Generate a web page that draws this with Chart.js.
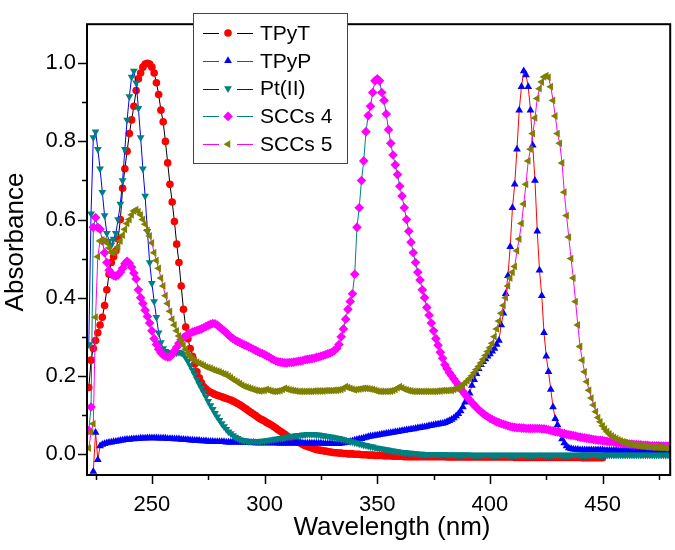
<!DOCTYPE html>
<html>
<head>
<meta charset="utf-8">
<script src="https://cdn.jsdelivr.net/npm/chart.js@4.4.1/dist/chart.umd.min.js"></script>
<style>
  html, body { margin: 0; padding: 0; background: #fff; }
  #wrap { width: 675px; height: 550px; }
</style>
</head>
<body>
<div id="wrap"><canvas id="myChart" width="675" height="550"></canvas></div>
<script>
// UV-Vis spectra, sampled every 1 nm from 221 nm to 480 nm (null = no data)
var wavelengthStart = 221;
var wavelengthEnd = 480;

var tpyt = [
  null, 0.17, 0.24, 0.27, 0.29, 0.31, 0.33, 0.35, 0.38, 0.42,
  0.46, 0.49, 0.505, 0.52, 0.55, 0.60, 0.68, 0.73, 0.775, 0.82,
  0.855, 0.89, 0.93, 0.96, 0.975, 0.99, 0.998, 1.0, 0.998, 0.99,
  0.975, 0.95, 0.92, 0.88, 0.85, 0.80, 0.745, 0.69, 0.645, 0.595,
  0.537, 0.49, 0.43, 0.37, 0.325, 0.295, 0.27, 0.25, 0.23, 0.21,
  0.195, 0.182, 0.172, 0.166, 0.161, 0.158, 0.155, 0.152, 0.15, 0.148,
  0.146, 0.144, 0.142, 0.14, 0.138, 0.135, 0.132, 0.129, 0.126, 0.122,
  0.118, 0.114, 0.11, 0.106, 0.102, 0.098, 0.094, 0.09, 0.087, 0.084,
  0.08, 0.077, 0.074, 0.07, 0.066, 0.062, 0.058, 0.054, 0.05, 0.046,
  0.042, 0.039, 0.036, 0.033, 0.03, 0.027, 0.024, 0.021, 0.019, 0.017,
  0.015, 0.013, 0.011, 0.01, 0.009, 0.008, 0.007, 0.006, 0.005, 0.004,
  0.003, 0.003, 0.002, 0.002, 0.001, 0.001, 0.0, 0.0, 0.0, -0.001,
  -0.001, -0.001, -0.002, -0.002, -0.002, -0.003, -0.003, -0.003, -0.004, -0.004,
  -0.004, -0.004, -0.005, -0.005, -0.005, -0.005, -0.006, -0.006, -0.006, -0.006,
  -0.006, -0.007, -0.007, -0.007, -0.007, -0.007, -0.007, -0.007, -0.007, -0.007,
  -0.007, -0.007, -0.007, -0.007, -0.007, -0.007, -0.007, -0.007, -0.007, -0.007,
  -0.008, -0.008, -0.008, -0.008, -0.008, -0.008, -0.008, -0.008, -0.008, -0.008,
  -0.008, -0.008, -0.008, -0.008, -0.008, -0.008, -0.008, -0.008, -0.008, -0.008,
  -0.008, -0.008, -0.008, -0.008, -0.008, -0.008, -0.008, -0.008, -0.008, -0.008,
  -0.009, -0.009, -0.009, -0.009, -0.009, -0.009, -0.009, -0.009, -0.009, -0.009,
  -0.009, -0.009, -0.009, -0.009, -0.009, -0.009, -0.009, -0.009, -0.009, -0.009,
  -0.009, -0.009, -0.009, -0.009, -0.009, -0.009, -0.009, -0.009, -0.009, -0.009,
  -0.01, -0.01, -0.01, -0.01, -0.01, -0.01, -0.01, -0.01, -0.01, -0.01,
  null, null, null, null, null, null, null, null, null, null,
  null, null, null, null, null, null, null, null, null, null,
  null, null, null, null, null, null, null, null, null, null
];

var tpyp = [
  null, null, null, -0.045, 0.055, -0.015, 0.02, 0.024, 0.026, 0.028,
  0.029, 0.03, 0.031, 0.032, 0.033, 0.034, 0.035, 0.036, 0.037, 0.037,
  0.038, 0.038, 0.039, 0.039, 0.04, 0.04, 0.04, 0.041, 0.041, 0.041,
  0.041, 0.041, 0.04, 0.04, 0.04, 0.04, 0.039, 0.039, 0.039, 0.038,
  0.038, 0.038, 0.037, 0.037, 0.036, 0.036, 0.035, 0.035, 0.034, 0.034,
  0.034, 0.033, 0.033, 0.033, 0.032, 0.032, 0.032, 0.031, 0.031, 0.031,
  0.031, 0.031, 0.03, 0.03, 0.03, 0.03, 0.03, 0.03, 0.03, 0.03,
  0.029, 0.029, 0.029, 0.029, 0.029, 0.028, 0.028, 0.028, 0.028, 0.028,
  0.028, 0.028, 0.028, 0.028, 0.028, 0.027, 0.027, 0.027, 0.027, 0.027,
  0.027, 0.027, 0.027, 0.027, 0.027, 0.027, 0.027, 0.027, 0.027, 0.027,
  0.027, 0.027, 0.027, 0.027, 0.027, 0.026, 0.026, 0.026, 0.026, 0.026,
  0.026, 0.026, 0.026, 0.027, 0.028, 0.029, 0.03, 0.032, 0.033, 0.035,
  0.036, 0.038, 0.039, 0.041, 0.042, 0.044, 0.045, 0.046, 0.047, 0.048,
  0.049, 0.05, 0.051, 0.052, 0.053, 0.054, 0.055, 0.056, 0.057, 0.058,
  0.059, 0.06, 0.061, 0.062, 0.063, 0.064, 0.065, 0.066, 0.067, 0.068,
  0.069, 0.07, 0.072, 0.073, 0.074, 0.075, 0.076, 0.077, 0.078, 0.08,
  0.082, 0.085, 0.088, 0.092, 0.097, 0.103, 0.11, 0.12, 0.132, 0.145,
  0.155, 0.175, 0.19, 0.205, 0.218, 0.228, 0.236, 0.243, 0.25, 0.256,
  0.263, 0.27, 0.28, 0.29, 0.33, 0.36, 0.41, 0.456, 0.53, 0.63,
  0.69, 0.78, 0.88, 0.94, 0.98, 0.97, 0.94, 0.88, 0.79, 0.70,
  0.57, 0.47, 0.405, 0.31, 0.25, 0.21, 0.165, 0.12, 0.09, 0.074,
  0.055, 0.038, 0.028, 0.02, 0.015, 0.013, 0.012, 0.011, 0.011, 0.01,
  0.01, 0.01, 0.01, 0.01, 0.01, 0.01, 0.01, 0.01, 0.01, 0.01,
  0.009, 0.009, 0.009, 0.009, 0.009, 0.009, 0.009, 0.009, 0.009, 0.009,
  0.009, 0.009, 0.009, 0.009, 0.009, 0.009, 0.009, 0.009, 0.009, 0.009,
  0.008, 0.008, 0.008, 0.008, 0.008, 0.008, 0.008, 0.008, 0.008, 0.008
];

var ptII = [
  null, 0.28, 0.615, 0.81, 0.825, 0.78, 0.73, 0.67, 0.61, 0.565,
  0.545, 0.535, 0.55, 0.565, 0.60, 0.64, 0.70, 0.78, 0.855, 0.915,
  0.965, 0.98, 0.95, 0.885, 0.81, 0.73, 0.66, 0.57, 0.49, 0.437,
  0.39, 0.35, 0.31, 0.285, 0.27, 0.263, 0.26, 0.258, 0.258, 0.258,
  0.259, 0.26, 0.259, 0.255, 0.247, 0.237, 0.226, 0.215, 0.203, 0.191,
  0.179, 0.168, 0.157, 0.146, 0.135, 0.124, 0.114, 0.104, 0.095, 0.086,
  0.078, 0.07, 0.063, 0.057, 0.052, 0.047, 0.043, 0.04, 0.037, 0.035,
  0.034, 0.033, 0.032, 0.032, 0.032, 0.032, 0.032, 0.032, 0.033, 0.033,
  0.034, 0.035, 0.036, 0.037, 0.038, 0.039, 0.04, 0.041, 0.042, 0.043,
  0.044, 0.045, 0.046, 0.047, 0.048, 0.048, 0.049, 0.049, 0.05, 0.05,
  0.05, 0.05, 0.049, 0.049, 0.048, 0.047, 0.046, 0.045, 0.044, 0.043,
  0.042, 0.041, 0.04, 0.038, 0.037, 0.035, 0.034, 0.032, 0.031, 0.029,
  0.028, 0.026, 0.025, 0.023, 0.022, 0.02, 0.019, 0.018, 0.016, 0.015,
  0.014, 0.013, 0.012, 0.011, 0.01, 0.009, 0.008, 0.007, 0.006, 0.005,
  0.004, 0.004, 0.003, 0.002, 0.002, 0.001, 0.001, 0.0, 0.0, 0.0,
  -0.001, -0.001, -0.001, -0.001, -0.001, -0.001, -0.001, -0.001, -0.001, -0.001,
  -0.002, -0.002, -0.002, -0.002, -0.002, -0.002, -0.002, -0.002, -0.002, -0.002,
  -0.003, -0.003, -0.003, -0.003, -0.003, -0.003, -0.003, -0.003, -0.003, -0.003,
  -0.003, -0.003, -0.003, -0.003, -0.003, -0.003, -0.003, -0.003, -0.003, -0.003,
  -0.003, -0.003, -0.003, -0.003, -0.003, -0.003, -0.003, -0.003, -0.003, -0.003,
  -0.003, -0.003, -0.003, -0.003, -0.003, -0.003, -0.003, -0.003, -0.003, -0.003,
  -0.003, -0.003, -0.003, -0.003, -0.003, -0.003, -0.003, -0.003, -0.003, -0.003,
  -0.003, -0.003, -0.003, -0.003, -0.003, -0.003, -0.003, -0.003, -0.003, -0.003,
  -0.003, -0.003, -0.003, -0.003, -0.003, -0.003, -0.003, -0.003, -0.003, -0.003,
  -0.003, -0.003, -0.003, -0.003, -0.003, -0.003, -0.003, -0.003, -0.003, -0.003,
  -0.003, -0.003, -0.003, -0.003, -0.003, -0.003, -0.003, -0.003, -0.003, -0.003
];

var sccs4 = [
  null, 0.06, 0.12, 0.58, 0.605, 0.58, 0.575, 0.545, 0.515, 0.49,
  0.47, 0.46, 0.457, 0.455, 0.458, 0.465, 0.475, 0.487, 0.493, 0.488,
  0.478, 0.463, 0.448, 0.42, 0.40, 0.385, 0.368, 0.352, 0.335, 0.315,
  0.295, 0.28, 0.268, 0.259, 0.253, 0.25, 0.248, 0.249, 0.255, 0.264,
  0.273, 0.283, 0.292, 0.298, 0.302, 0.306, 0.309, 0.312, 0.314, 0.316,
  0.318, 0.32, 0.323, 0.326, 0.329, 0.332, 0.334, 0.333, 0.33, 0.325,
  0.32, 0.315, 0.31, 0.304, 0.299, 0.295, 0.291, 0.288, 0.285, 0.282,
  0.279, 0.277, 0.274, 0.271, 0.268, 0.265, 0.262, 0.259, 0.257, 0.254,
  0.251, 0.248, 0.244, 0.241, 0.238, 0.236, 0.235, 0.234, 0.233, 0.233,
  0.234, 0.234, 0.235, 0.236, 0.237, 0.238, 0.239, 0.241, 0.242, 0.243,
  0.244, 0.245, 0.247, 0.248, 0.25, 0.252, 0.254, 0.256, 0.258, 0.261,
  0.265, 0.27, 0.28, 0.30, 0.32, 0.345, 0.37, 0.39, 0.41, 0.46,
  0.58, 0.63, 0.70, 0.75, 0.825, 0.866, 0.89, 0.925, 0.955, 0.96,
  0.955, 0.925, 0.905, 0.87, 0.83, 0.795, 0.765, 0.74, 0.715, 0.685,
  0.66, 0.63, 0.60, 0.57, 0.542, 0.515, 0.49, 0.465, 0.445, 0.42,
  0.40, 0.375, 0.355, 0.335, 0.315, 0.295, 0.278, 0.26, 0.245, 0.228,
  0.218, 0.208, 0.2, 0.192, 0.184, 0.176, 0.168, 0.16, 0.152, 0.145,
  0.138, 0.131, 0.125, 0.119, 0.113, 0.108, 0.103, 0.099, 0.095, 0.091,
  0.088, 0.085, 0.082, 0.08, 0.078, 0.076, 0.074, 0.072, 0.07, 0.069,
  0.068, 0.067, 0.067, 0.066, 0.066, 0.065, 0.065, 0.065, 0.065, 0.065,
  0.065, 0.065, 0.064, 0.064, 0.063, 0.062, 0.06, 0.059, 0.057, 0.056,
  0.055, 0.053, 0.052, 0.05, 0.049, 0.048, 0.047, 0.046, 0.044, 0.043,
  0.042, 0.041, 0.04, 0.039, 0.038, 0.037, 0.036, 0.035, 0.035, 0.034,
  0.033, 0.032, 0.031, 0.031, 0.03, 0.029, 0.028, 0.028, 0.027, 0.027,
  0.026, 0.025, 0.025, 0.024, 0.024, 0.023, 0.023, 0.022, 0.022, 0.022,
  0.021, 0.021, 0.021, 0.021, 0.021, 0.02, 0.02, 0.02, 0.02, 0.02
];

var sccs5 = [
  null, 0.015, 0.056, 0.077, 0.35, 0.505, 0.545, 0.548, 0.546, 0.54,
  0.527, 0.516, 0.515, 0.52, 0.53, 0.545, 0.56, 0.575, 0.59, 0.60,
  0.612, 0.622, 0.625, 0.62, 0.612, 0.60, 0.588, 0.572, 0.558, 0.54,
  0.515, 0.495, 0.475, 0.45, 0.43, 0.405, 0.385, 0.365, 0.345, 0.33,
  0.315, 0.302, 0.29, 0.278, 0.268, 0.258, 0.25, 0.244, 0.239, 0.235,
  0.232, 0.229, 0.226, 0.223, 0.221, 0.219, 0.216, 0.214, 0.212, 0.21,
  0.207, 0.205, 0.203, 0.199, 0.195, 0.191, 0.187, 0.184, 0.18, 0.176,
  0.173, 0.171, 0.169, 0.167, 0.165, 0.163, 0.162, 0.161, 0.162, 0.163,
  0.165, 0.163, 0.161, 0.16, 0.16, 0.161, 0.162, 0.165, 0.168, 0.166,
  0.164, 0.163, 0.162, 0.161, 0.16, 0.16, 0.16, 0.16, 0.16, 0.16,
  0.16, 0.161, 0.161, 0.161, 0.161, 0.161, 0.162, 0.162, 0.162, 0.162,
  0.163, 0.163, 0.164, 0.165, 0.168, 0.172, 0.17, 0.168, 0.166, 0.164,
  0.165, 0.166, 0.167, 0.168, 0.168, 0.167, 0.166, 0.165, 0.163, 0.161,
  0.16, 0.16, 0.16, 0.16, 0.16, 0.161, 0.162, 0.165, 0.169, 0.172,
  0.169, 0.166, 0.164, 0.162, 0.161, 0.16, 0.16, 0.16, 0.16, 0.16,
  0.16, 0.16, 0.16, 0.16, 0.16, 0.16, 0.161, 0.161, 0.162, 0.162,
  0.162, 0.163, 0.163, 0.165, 0.167, 0.17, 0.173, 0.177, 0.182, 0.187,
  0.193, 0.2, 0.208, 0.216, 0.224, 0.233, 0.242, 0.252, 0.262, 0.272,
  0.283, 0.3, 0.32, 0.34, 0.36, 0.38, 0.40, 0.43, 0.45, 0.465,
  0.48, 0.52, 0.55, 0.59, 0.64, 0.69, 0.75, 0.78, 0.82, 0.86,
  0.91, 0.935, 0.952, 0.965, 0.968, 0.964, 0.94, 0.905, 0.865, 0.82,
  0.795, 0.745, 0.67, 0.61, 0.555, 0.50, 0.45, 0.39, 0.33, 0.275,
  0.24, 0.21, 0.185, 0.163, 0.143, 0.125, 0.108, 0.093, 0.082, 0.072,
  0.064, 0.057, 0.051, 0.046, 0.042, 0.039, 0.036, 0.033, 0.031, 0.029,
  0.027, 0.026, 0.025, 0.023, 0.022, 0.021, 0.02, 0.02, 0.019, 0.018,
  0.018, 0.017, 0.017, 0.017, 0.016, 0.016, 0.016, 0.015, 0.015, 0.015
];

var seriesNames = ['TPyT', 'TPyP', 'Pt(II)', 'SCCs 4', 'SCCs 5'];
var seriesValues = [tpyt, tpyp, ptII, sccs4, sccs5];
var xTickValues = [250, 300, 350, 400, 450];
var yTickValues = [0.0, 0.2, 0.4, 0.6, 0.8, 1.0];

// styles (Origin style: line colour differs from marker colour)
var lineColors = ['#000000', '#ff0000', '#0000ff', '#008080', '#ff00ff'];
var markerColors = ['#ff0000', '#0000ff', '#008080', '#ff00ff', '#808000'];
var markerStyles = ['circle', 'triangle', 'triangle', 'rectRot', 'triangle'];
var markerRotations = [0, 0, 180, 0, -90];
var markerRadius = [3.8, 4.5, 4.5, 4.8, 4.5];

var fontFamily = "'Liberation Sans', Arial, Helvetica, sans-serif";

function toPoints(values) {
    var pts = [];
    values.forEach(function (v, i) {
        if (v !== null) pts.push({ x: wavelengthStart + i, y: v });
    });
    return pts;
}

var datasets = seriesNames.map(function (name, i) {
    return {
        label: name,
        data: toPoints(seriesValues[i]),
        borderColor: lineColors[i],
        borderWidth: 1,
        pointStyle: markerStyles[i],
        rotation: markerRotations[i],
        pointRadius: markerRadius[i],
        pointBackgroundColor: markerColors[i],
        pointBorderColor: markerColors[i],
        pointBorderWidth: 0,
        tension: 0,
        fill: false,
        order: seriesNames.length - i // later series drawn on top
    };
});

// frame + outward ticks like the Origin plot
var framePlugin = {
    id: 'frame',
    afterDatasetsDraw: function (chart) {
        var ctx = chart.ctx, a = chart.chartArea;
        var xs = chart.scales.x, ys = chart.scales.y;
        ctx.save();
        ctx.strokeStyle = '#000';
        ctx.lineWidth = 2;
        ctx.strokeRect(a.left, a.top, a.right - a.left, a.bottom - a.top);
        ctx.lineWidth = 1.5;
        ctx.beginPath();
        for (var w = 225; w <= wavelengthEnd; w += 25) {
            var px = Math.round(xs.getPixelForValue(w)) + 0.5;
            var len = (w % 50 === 0) ? 9 : 5;
            ctx.moveTo(px, a.bottom);
            ctx.lineTo(px, a.bottom + len);
        }
        for (var k = 0; k <= 10; k++) {
            var py = Math.round(ys.getPixelForValue(k / 10)) + 0.5;
            var l2 = (k % 2 === 0) ? 9 : 5;
            ctx.moveTo(a.left, py);
            ctx.lineTo(a.left - l2, py);
        }
        ctx.stroke();

        // axis titles
        ctx.fillStyle = '#000';
        ctx.font = '26px ' + fontFamily;
        ctx.textAlign = 'center';
        ctx.textBaseline = 'alphabetic';
        ctx.fillText('Wavelength (nm)', 392, 535);
        ctx.save();
        ctx.translate(23, 242);
        ctx.rotate(-Math.PI / 2);
        ctx.fillText('Absorbance', 0, 0);
        ctx.restore();
        ctx.restore();
    }
};

var legendPlugin = {
    id: 'boxLegend',
    afterDraw: function (chart) {
        var ctx = chart.ctx;
        var bx = 193, by = 13, bw = 154, bh = 150;
        ctx.save();
        ctx.fillStyle = '#fff';
        ctx.fillRect(bx, by, bw, bh);
        ctx.strokeStyle = '#444';
        ctx.lineWidth = 1;
        ctx.strokeRect(bx + 0.5, by + 0.5, bw, bh);
        ctx.font = '21px ' + fontFamily;
        ctx.textBaseline = 'middle';
        ctx.textAlign = 'left';
        seriesNames.forEach(function (name, i) {
            var y = 33 + i * 27.8;
            ctx.strokeStyle = lineColors[i];
            ctx.lineWidth = 1;
            ctx.beginPath();
            ctx.moveTo(203, Math.round(y) + 0.5);
            ctx.lineTo(219, Math.round(y) + 0.5);
            ctx.moveTo(237, Math.round(y) + 0.5);
            ctx.lineTo(253, Math.round(y) + 0.5);
            ctx.stroke();
            ctx.fillStyle = markerColors[i];
            ctx.strokeStyle = markerColors[i];
            Chart.helpers.drawPoint(ctx, {
                pointStyle: markerStyles[i],
                rotation: markerRotations[i],
                radius: markerRadius[i],
                borderWidth: 0
            }, 228, y);
            ctx.fillStyle = '#000';
            ctx.fillText(name, 260, y + 1);
        });
        ctx.restore();
    }
};

var ctx = document.getElementById('myChart').getContext('2d');
var myChart = new Chart(ctx, {
    type: 'line',
    data: { datasets: datasets },
    options: {
        responsive: false,
        animation: false,
        events: [],
        layout: { padding: { top: 4, right: 4, left: 0, bottom: 0 } },
        plugins: {
            legend: { display: false },
            tooltip: { enabled: false }
        },
        scales: {
            x: {
                type: 'linear',
                min: 221.2,
                max: 480,
                grid: { display: false, drawTicks: false },
                border: { display: false },
                afterBuildTicks: function (scale) {
                    scale.ticks = xTickValues.map(function (v) { return { value: v }; });
                },
                afterFit: function (scale) { scale.height = 75; },
                ticks: {
                    color: '#000',
                    padding: 17,
                    maxRotation: 0,
                    autoSkip: false,
                    font: { family: fontFamily, size: 22 }
                }
            },
            y: {
                min: -0.054,
                max: 1.1,
                grid: { display: false, drawTicks: false },
                border: { display: false },
                afterBuildTicks: function (scale) {
                    scale.ticks = yTickValues.map(function (v) { return { value: v }; });
                },
                afterFit: function (scale) { scale.width = 87; },
                ticks: {
                    color: '#000',
                    padding: 11,
                    autoSkip: false,
                    font: { family: fontFamily, size: 22 },
                    callback: function (v) { return Number(v).toFixed(1); }
                }
            }
        }
    },
    plugins: [framePlugin, legendPlugin]
});
</script>
</body>
</html>
